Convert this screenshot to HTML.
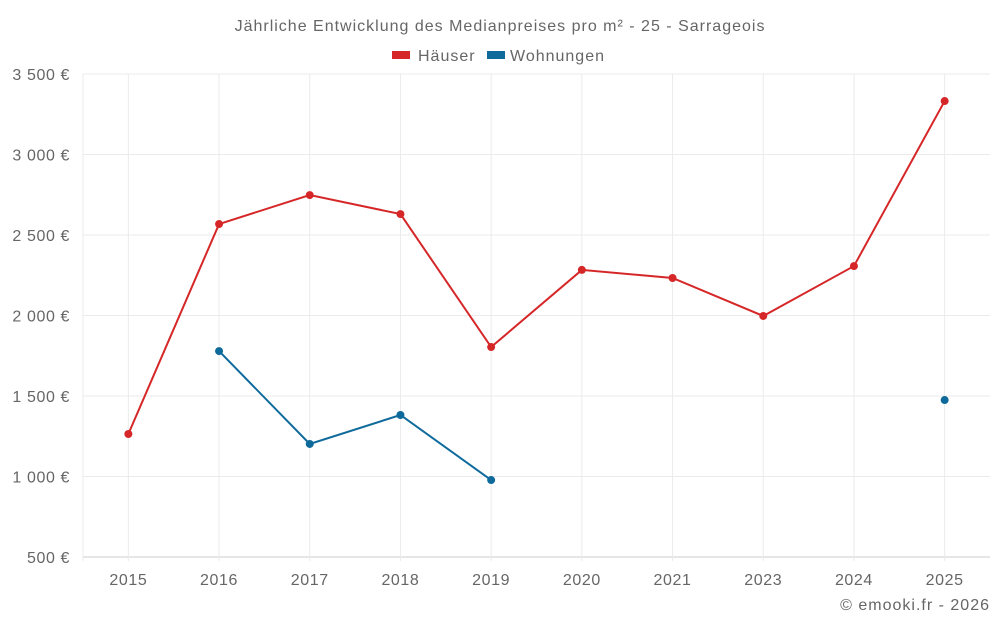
<!DOCTYPE html>
<html><head><meta charset="utf-8"><style>
body{margin:0;background:#fff;font-family:"Liberation Sans",sans-serif;}
svg text{font-family:"Liberation Sans",sans-serif;fill:#666;}
.ls1{letter-spacing:1px;}
.ls2{letter-spacing:0.6px;}
</style></head><body>
<svg id="c" width="1000" height="625">
<text class="ls1" x="500" y="31" text-anchor="middle" font-size="16">Jährliche Entwicklung des Medianpreises pro m² - 25 - Sarrageois</text>
<g>
<rect x="392" y="51" width="18" height="8" fill="#d62728"/>
<text class="ls1" x="418" y="61" font-size="16">Häuser</text>
<rect x="487" y="51" width="18" height="8" fill="#0f6a9c"/>
<text class="ls1" x="510" y="61" font-size="16">Wohnungen</text>
</g>
<g id="grid"></g><g id="marks"></g>
<text class="ls1" x="990" y="610" text-anchor="end" font-size="16">© emooki.fr - 2026</text>
</svg>
<script>
const categories=["2015","2016","2017","2018","2019","2020","2021","2023","2024","2025"];
const haeuser=[1264,2568,2748,2630,1804,2283,2233,1997,2307,3332];
const wohnungen=[null,1779,1202,1382,978,null,null,null,null,1475];
const yTicks=[500,1000,1500,2000,2500,3000,3500];
const yTickLabels=["500 €","1 000 €","1 500 €","2 000 €","2 500 €","3 000 €","3 500 €"];
const L=83,R=990,T=74,B=557,NS="http://www.w3.org/2000/svg";
const bw=(R-L)/categories.length;
const x=i=>L+bw*(i+0.5);
const y=v=>B-(v-500)/3000*(B-T);
function el(t,a,p){const e=document.createElementNS(NS,t);for(const k in a)e.setAttribute(k,a[k]);p.appendChild(e);return e;}
const g=document.getElementById('grid'),m=document.getElementById('marks');
yTicks.forEach((v,i)=>{
 const l=el('line',{x1:L,x2:R,y1:y(v),y2:y(v),stroke:i==0?'#ccc':'#ebebeb'},g);
 
 
 const t=el('text',{x:70,y:y(v)+6,'text-anchor':'end','font-size':16,'class':'ls2'},g);t.textContent=yTickLabels[i];
 
 
});
const ax=el('line',{x1:L,x2:L,y1:T,y2:B+4,stroke:'#ebebeb'},g);


categories.forEach((c,i)=>{
 const l=el('line',{x1:x(i),x2:x(i),y1:T,y2:B+4,stroke:'#ebebeb'},g);
 
 
 const t=el('text',{x:x(i),y:585,'text-anchor':'middle','font-size':16,'class':'ls2'},g);t.textContent=c;
 
 
});
function series(data,color,name){
 let segs=[],cur=[];
 data.forEach((v,i)=>{if(v==null){if(cur.length)segs.push(cur);cur=[];}else cur.push([x(i),y(v)]);});
 if(cur.length)segs.push(cur);
 segs.forEach(s=>{if(s.length>1){const p=el('polyline',{points:s.map(q=>q.join(',')).join(' '),fill:'none',stroke:color,'stroke-width':2},m);
  
  }});
 data.forEach((v,i)=>{if(v==null)return;const c=el('circle',{cx:x(i),cy:y(v),r:4,fill:color},m);
  
  });
}
series(haeuser,'#d62728','haeuser');
series(wohnungen,'#0f6a9c','wohnungen');
</script>
</body></html>
